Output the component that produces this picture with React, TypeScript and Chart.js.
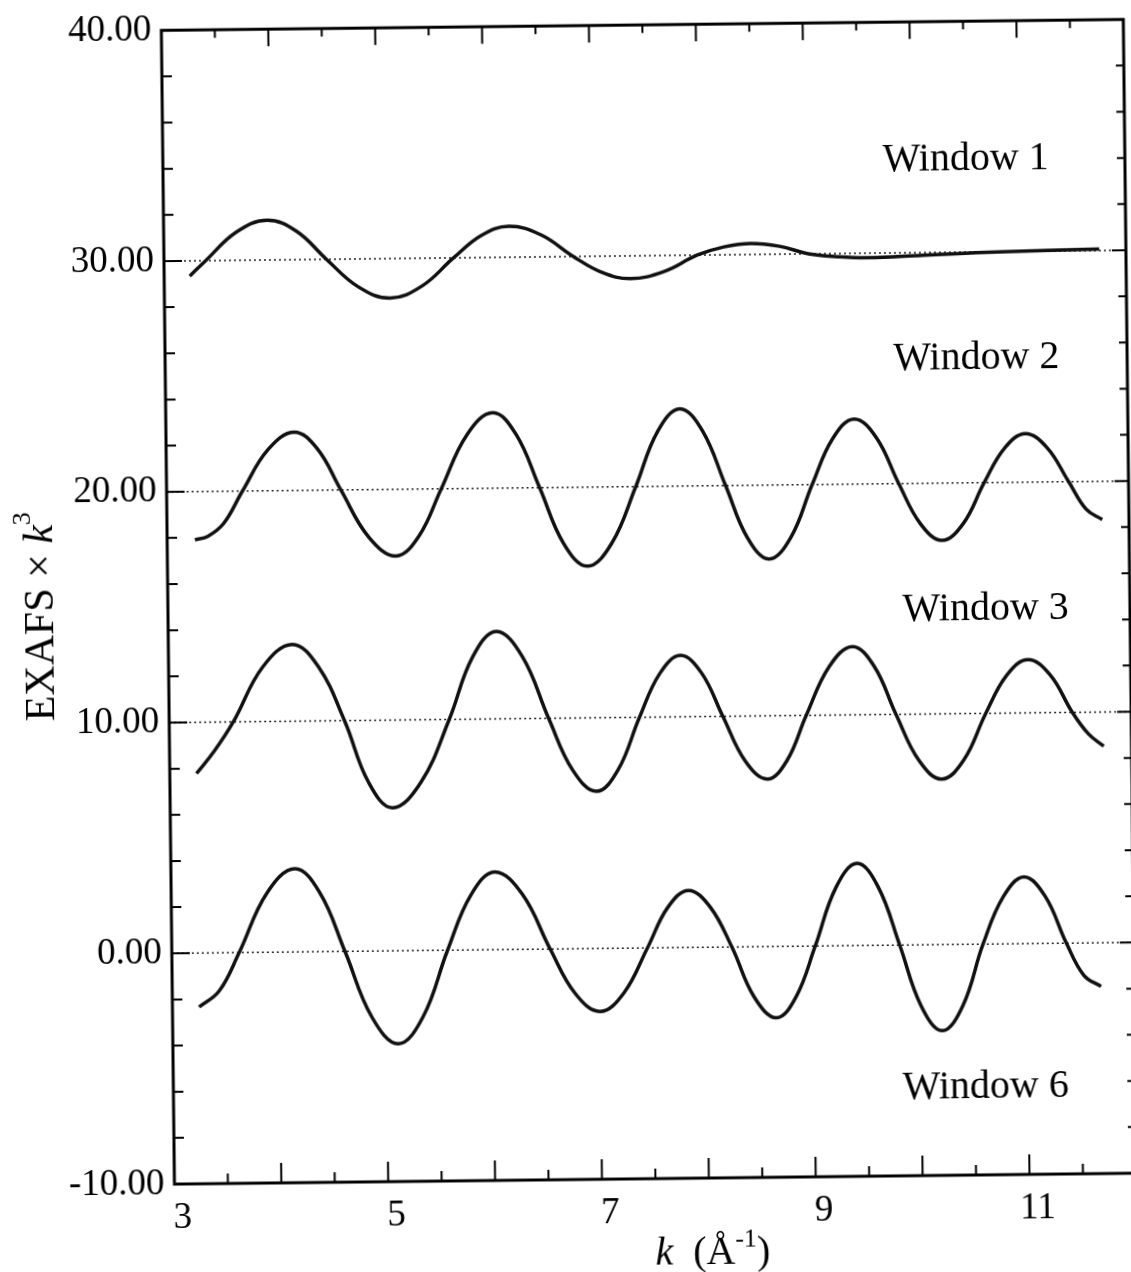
import { useEffect, useRef } from "react";
import { Chart, registerables } from "chart.js";

Chart.register(...registerables);

// ---- axis settings ----
const K_MIN = 3;
const K_MAX = 12;
const Y_MIN = -10;
const Y_MAX = 40;
const K_LABELS = [3, 5, 7, 9, 11];
const BASELINES = [0, 10, 20, 30];

// ---- Window 1 (offset 30) ----
const w1K = [3.24, 3.39, 3.68, 3.97, 4.245, 4.52, 4.815, 5.11, 5.41, 5.71, 5.97, 6.23, 6.53, 6.83, 7.095, 7.36, 7.675, 7.99, 8.24, 8.49, 8.76, 9.03, 9.3, 9.58, 10.1, 10.8, 11.75];
const w1V = [29.34, 30.0, 31.22, 31.72, 31.22, 30.0, 28.79, 28.29, 28.79, 30.0, 30.95, 31.34, 30.95, 30.0, 29.3, 29.01, 29.3, 30.0, 30.34, 30.48, 30.34, 30.0, 29.86, 29.8, 29.88, 29.99, 30.06];

// ---- Window 2 (offset 20) ----
const w2K = [3.26, 3.38, 3.53, 3.71, 3.955, 4.2, 4.415, 4.63, 4.885, 5.14, 5.355, 5.57, 5.815, 6.06, 6.275, 6.49, 6.71, 6.93, 7.16, 7.39, 7.6, 7.81, 8.02, 8.23, 8.43, 8.63, 8.835, 9.04, 9.24, 9.44, 9.645, 9.85, 10.05, 10.25, 10.45, 10.65, 10.845, 11.04, 11.24, 11.44, 11.6, 11.75];
const w2V = [17.91, 18.05, 18.6, 20.0, 21.79, 22.52, 21.79, 20.0, 17.95, 17.11, 17.95, 20.0, 22.32, 23.27, 22.32, 20.0, 17.56, 16.57, 17.56, 20.0, 22.38, 23.35, 22.38, 20.0, 17.72, 16.79, 17.72, 20.0, 22.0, 22.82, 22.0, 20.0, 18.24, 17.52, 18.24, 20.0, 21.49, 22.1, 21.49, 20.0, 18.8, 18.34];

// ---- Window 3 (offset 10) ----
const w3K = [3.25, 3.42, 3.6, 3.88, 4.16, 4.4, 4.64, 4.86, 5.08, 5.35, 5.62, 5.845, 6.07, 6.31, 6.55, 6.77, 6.99, 7.195, 7.4, 7.595, 7.79, 7.985, 8.18, 8.385, 8.59, 8.775, 8.96, 9.18, 9.4, 9.6, 9.8, 10.01, 10.22, 10.43, 10.64, 10.84, 11.04, 11.245, 11.45, 11.6, 11.74];
const w3V = [7.78, 8.75, 10.0, 12.36, 13.33, 12.36, 10.0, 7.3, 6.2, 7.3, 10.0, 12.69, 13.79, 12.69, 10.0, 7.74, 6.81, 7.74, 10.0, 11.89, 12.66, 11.89, 10.0, 8.05, 7.26, 8.05, 10.0, 12.1, 12.96, 12.1, 10.0, 7.99, 7.17, 7.99, 10.0, 11.64, 12.31, 11.64, 10.0, 9.05, 8.52];

// ---- Window 6 (offset 0) ----
const w6K = [3.25, 3.44, 3.63, 3.895, 4.16, 4.39, 4.62, 4.865, 5.11, 5.345, 5.58, 5.805, 6.03, 6.285, 6.54, 6.77, 7.0, 7.225, 7.45, 7.645, 7.84, 8.04, 8.24, 8.445, 8.65, 8.835, 9.02, 9.22, 9.42, 9.615, 9.81, 10.005, 10.2, 10.395, 10.59, 10.785, 10.98, 11.175, 11.37, 11.53, 11.69];
const w6V = [-2.34, -1.65, 0.0, 2.56, 3.61, 2.56, 0.0, -2.86, -4.03, -2.86, 0.0, 2.39, 3.37, 2.39, 0.0, -1.94, -2.73, -1.94, 0.0, 1.75, 2.47, 1.75, 0.0, -2.19, -3.09, -2.19, 0.0, 2.53, 3.56, 2.53, 0.0, -2.65, -3.73, -2.65, 0.0, 2.05, 2.89, 2.05, 0.0, -1.4, -1.89];

// ---- curve labels (text, k position, y position) ----
const windowLabels = ["Window 1", "Window 2", "Window 3", "Window 6"];
const windowLabelK = [10.51, 10.59, 10.65, 10.6];
const windowLabelY = [34.0, 25.4, 14.5, -6.2];

const SERIF = '"Liberation Serif", "Times New Roman", Times, serif';
const CANVAS_W = 1150;
const CANVAS_H = 1300;

const toPts = (ks: number[], vs: number[]) => ks.map((k, i) => ({ x: k, y: vs[i] }));

const drawParts = (
  ctx: CanvasRenderingContext2D,
  parts: { t: string; f: string; dy: number }[],
  cx: number,
  baseY: number
) => {
  let total = 0;
  const widths = parts.map((p) => {
    ctx.font = p.f;
    const w = ctx.measureText(p.t).width;
    total += w;
    return w;
  });
  let x = cx - total / 2;
  parts.forEach((p, i) => {
    ctx.font = p.f;
    ctx.fillText(p.t, x, baseY + p.dy);
    x += widths[i];
  });
};

const framePlugin = {
  id: "frameTicks",
  afterDraw(chart: any) {
    const { ctx, chartArea: a, scales } = chart;
    const xs = scales.x;
    const ys = scales.y;
    ctx.save();
    ctx.strokeStyle = "#000";
    ctx.fillStyle = "#000";
    ctx.lineWidth = 3;
    ctx.strokeRect(a.left, a.top, a.right - a.left, a.bottom - a.top);

    // x ticks (every 0.5, inward)
    ctx.lineWidth = 2;
    for (let v = K_MIN + 0.5; v < K_MAX - 1e-6; v += 0.5) {
      const px = xs.getPixelForValue(v);
      const major = Math.abs(v - Math.round(v)) < 1e-6;
      ctx.beginPath();
      ctx.moveTo(px, a.bottom);
      ctx.lineTo(px, a.bottom - (major ? 20 : 10));
      ctx.moveTo(px, a.top);
      ctx.lineTo(px, a.top + (major ? 17 : 8));
      ctx.stroke();
    }
    // y ticks (every 2, inward)
    for (let v = Y_MIN + 2; v < Y_MAX - 1e-6; v += 2) {
      const py = ys.getPixelForValue(v);
      const major = v % 10 === 0;
      ctx.beginPath();
      ctx.moveTo(a.left, py);
      ctx.lineTo(a.left + (major ? 18 : 10), py);
      ctx.moveTo(a.right, py);
      ctx.lineTo(a.right - (major ? 14 : 8), py);
      ctx.stroke();
    }

    // window labels
    ctx.font = `40px ${SERIF}`;
    ctx.textAlign = "center";
    ctx.textBaseline = "middle";
    windowLabels.forEach((t, i) => {
      ctx.fillText(t, xs.getPixelForValue(windowLabelK[i]), ys.getPixelForValue(windowLabelY[i]));
    });

    // x axis title
    ctx.textAlign = "left";
    ctx.textBaseline = "alphabetic";
    drawParts(
      ctx,
      [
        { t: "k", f: `italic 40px ${SERIF}`, dy: 0 },
        { t: "  (Å", f: `40px ${SERIF}`, dy: 0 },
        { t: "-1", f: `26px ${SERIF}`, dy: -17 },
        { t: ")", f: `40px ${SERIF}`, dy: 0 },
      ],
      xs.getPixelForValue(8.03),
      a.bottom + 86
    );

    // y axis title (rotated)
    ctx.save();
    ctx.translate(46, (a.top + a.bottom) / 2 + 8);
    ctx.rotate(-Math.PI / 2);
    drawParts(
      ctx,
      [
        { t: "EXAFS × ", f: `42px ${SERIF}`, dy: 0 },
        { t: "k", f: `italic 42px ${SERIF}`, dy: 0 },
        { t: "3", f: `26px ${SERIF}`, dy: -22 },
      ],
      0,
      0
    );
    ctx.restore();
    ctx.restore();
  },
};

export default function App() {
  const ref = useRef<HTMLCanvasElement | null>(null);

  useEffect(() => {
    if (!ref.current) return;
    const curve = (ks: number[], vs: number[]) => ({
      data: toPts(ks, vs),
      borderColor: "#111",
      borderWidth: 3.5,
      pointRadius: 0,
      fill: false,
      tension: 0.4,
    });
    const base = (v: number) => ({
      data: [
        { x: K_MIN, y: v },
        { x: K_MAX, y: v },
      ],
      borderColor: "#222",
      borderWidth: 1.4,
      borderDash: [2, 3],
      pointRadius: 0,
      fill: false,
    });
    const chart = new Chart(ref.current, {
      type: "line",
      data: {
        datasets: [
          curve(w1K, w1V),
          curve(w2K, w2V),
          curve(w3K, w3V),
          curve(w6K, w6V),
          ...BASELINES.map(base),
        ] as any,
      },
      options: {
        animation: false,
        responsive: false,
        devicePixelRatio: 1,
        layout: { padding: { left: 0, right: CANVAS_W - 1123, top: 26.5, bottom: 0 } },
        plugins: { legend: { display: false }, tooltip: { enabled: false } },
        scales: {
          x: {
            type: "linear",
            min: K_MIN,
            max: K_MAX,
            grid: { display: false, drawTicks: false },
            border: { display: false },
            ticks: {
              stepSize: 1,
              autoSkip: false,
              maxRotation: 0,
              padding: 12,
              labelOffset: 8,
              color: "#000",
              font: { family: SERIF, size: 37 },
              callback: (v: any) => (K_LABELS.includes(Number(v)) ? String(v) : ""),
            },
            afterFit: (s: any) => {
              s.height = CANVAS_H - 1186;
            },
          },
          y: {
            type: "linear",
            min: Y_MIN,
            max: Y_MAX,
            grid: { display: false, drawTicks: false },
            border: { display: false },
            ticks: {
              stepSize: 10,
              padding: 10,
              color: "#000",
              font: { family: SERIF, size: 37 },
              callback: (v: any) => Number(v).toFixed(2),
            },
            afterFit: (s: any) => {
              s.width = 161;
            },
          },
        },
      },
      plugins: [framePlugin],
    });
    return () => chart.destroy();
  }, []);

  return (
    <div
      style={{
        position: "fixed",
        left: 0,
        top: 0,
        width: 1131,
        height: 1272,
        overflow: "hidden",
        background: "#fff",
      }}
    >
      <div
        style={{
          position: "absolute",
          left: 0,
          top: 0,
          width: CANVAS_W,
          height: CANVAS_H,
          transform: "rotate(-0.65deg)",
          transformOrigin: "0 0",
        }}
      >
        <canvas ref={ref} width={CANVAS_W} height={CANVAS_H} style={{ width: CANVAS_W, height: CANVAS_H, display: "block" }} />
      </div>
    </div>
  );
}
